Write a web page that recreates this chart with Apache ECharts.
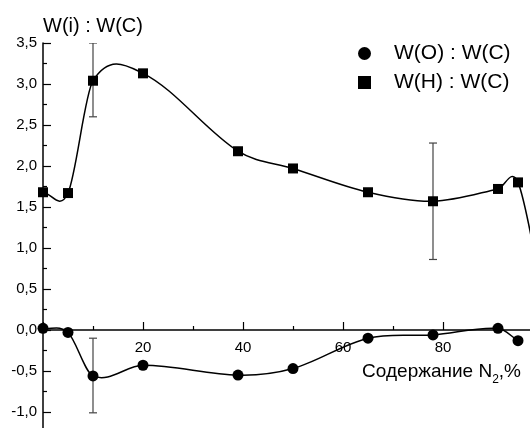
<!DOCTYPE html>
<html>
<head>
<meta charset="utf-8">
<script src="https://cdn.jsdelivr.net/npm/echarts@6/dist/echarts.min.js"></script>
<style>
html,body{margin:0;padding:0;background:#fff;}
#c{width:530px;height:428px;}
</style>
</head>
<body>
<div id="c"></div>
<script>
// Data
const xO = [0, 5, 10, 20, 39, 50, 65, 78, 91, 95];
const yO = [0.02, -0.03, -0.56, -0.43, -0.55, -0.47, -0.10, -0.06, 0.02, -0.13];
const xH = [0, 5, 10, 20, 39, 50, 65, 78, 91, 95, 100];
const yH = [1.68, 1.67, 3.04, 3.13, 2.18, 1.97, 1.68, 1.57, 1.72, 1.80, 0.40];
// error bars: [x, low, high]
const errO = [[10, -1.01, -0.10]];
const errH = [[10, 2.60, 3.50], [78, 0.86, 2.28]];
const xTicks = ['20', '40', '60', '80'];
const nameO = 'W(O) : W(C)';
const nameH = 'W(H) : W(C)';
const yName = 'W(i) : W(C)';

const FONT = 'Arial, "Liberation Sans", sans-serif';
const chart = echarts.init(document.getElementById('c'), null, {renderer: 'canvas'});

function pairs(xs, ys) { return xs.map((x, i) => [x, ys[i]]); }

function errRender(params, api) {
  const x = api.value(0), lo = api.value(1), hi = api.value(2);
  const pHi = api.coord([x, hi]);
  const pLo = api.coord([x, lo]);
  const w = 4;
  const st = {stroke: '#444', lineWidth: 1.2};
  return {
    type: 'group',
    children: [
      {type: 'line', shape: {x1: pHi[0], y1: pHi[1], x2: pLo[0], y2: pLo[1]}, style: st},
      {type: 'line', shape: {x1: pHi[0] - w, y1: pHi[1], x2: pHi[0] + w, y2: pHi[1]}, style: st},
      {type: 'line', shape: {x1: pLo[0] - w, y1: pLo[1], x2: pLo[0] + w, y2: pLo[1]}, style: st}
    ]
  };
}

// smooth curve segment i -> i+1 through the data points (cubic Hermite in x)
function splineRender(xs, ys) {
  return function (params, api) {
    const n = xs.length;
    const i = params.dataIndex;
    if (i >= n - 1) return null;
    const P = k => {
      const j = Math.max(0, Math.min(n - 1, k));
      return api.coord([xs[j], ys[j]]);
    };
    const slope = k => {
      const a = P(k - 1), b = P(k + 1);
      return (b[1] - a[1]) / (b[0] - a[0]);
    };
    const p1 = P(i), p2 = P(i + 1);
    const h = (p2[0] - p1[0]) / 3;
    const s1 = slope(i), s2 = slope(i + 1);
    return {
      type: 'bezierCurve',
      shape: {
        x1: p1[0], y1: p1[1], x2: p2[0], y2: p2[1],
        cpx1: p1[0] + h, cpy1: p1[1] + s1 * h,
        cpx2: p2[0] - h, cpy2: p2[1] - s2 * h
      },
      style: {stroke: '#000', lineWidth: 1.5, fill: 'none'}
    };
  };
}

const gridTop = 43, gridHeight = 410;
const yMin = -1.5, yMax = 3.5;
const zeroOffset = gridHeight * (0 - yMin) / (yMax - yMin);

const option = {
  animation: false,
  backgroundColor: '#fff',
  grid: {left: 43, top: gridTop, width: 500, height: gridHeight, containLabel: false, outerBoundsMode: 'none'},
  legend: {
    orient: 'vertical',
    left: 353,
    top: 38,
    itemWidth: 13,
    itemHeight: 13,
    itemGap: 8,
    data: [
      {name: nameO, icon: 'circle'},
      {name: nameH, icon: 'rect'}
    ],
    textStyle: {fontFamily: FONT, fontSize: 21, color: '#000', padding: [0, 0, 0, 18]}
  },
  xAxis: {
    type: 'value',
    min: 0,
    max: 100,
    interval: 20,
    position: 'bottom',
    offset: -zeroOffset,
    axisLine: {onZero: false, lineStyle: {color: '#000', width: 1.5}},
    axisTick: {inside: true, length: 8, lineStyle: {color: '#000', width: 1.2}},
    minorTick: {show: true, splitNumber: 2, length: 4, lineStyle: {color: '#000', width: 1.2}},
    splitLine: {show: false},
    axisLabel: {
      fontFamily: FONT, fontSize: 15, color: '#000', margin: 10,
      formatter: v => (xTicks.indexOf(String(v)) >= 0 ? String(v) : '')
    },
    name: 'Содержание N{s|2},%',
    nameLocation: 'end',
    nameGap: -22,
    nameTextStyle: {
      fontFamily: FONT, fontSize: 19, color: '#000',
      align: 'right', verticalAlign: 'top', padding: [28, 0, 0, 0],
      rich: {s: {fontFamily: FONT, fontSize: 12, color: '#000', padding: [16, 0, 0, 0]}}
    }
  },
  yAxis: {
    type: 'value',
    min: yMin,
    max: yMax,
    interval: 0.5,
    axisLine: {show: true, onZero: false, lineStyle: {color: '#000', width: 1.5}},
    axisTick: {show: true, inside: true, length: 8, lineStyle: {color: '#000', width: 1.2}},
    minorTick: {show: true, splitNumber: 2, length: 4, lineStyle: {color: '#000', width: 1.2}},
    splitLine: {show: false},
    axisLabel: {
      fontFamily: FONT, fontSize: 15, color: '#000', margin: 6,
      formatter: v => v.toFixed(1).replace('.', ',')
    },
    name: yName,
    nameLocation: 'end',
    nameGap: 7,
    nameTextStyle: {fontFamily: FONT, fontSize: 20, color: '#000', align: 'left', verticalAlign: 'bottom'}
  },
  series: [
    {
      type: 'custom', name: 'errO', renderItem: errRender, data: errO, z: 1,
      encode: {x: 0, y: [1, 2]}, clip: true
    },
    {
      type: 'custom', name: 'errH', renderItem: errRender, data: errH, z: 1,
      encode: {x: 0, y: [1, 2]}, clip: true
    },
    {
      type: 'custom', name: 'curveO', renderItem: splineRender(xO, yO), data: pairs(xO, yO), z: 2,
      encode: {x: 0, y: 1}, clip: true
    },
    {
      type: 'custom', name: 'curveH', renderItem: splineRender(xH, yH), data: pairs(xH, yH), z: 2,
      encode: {x: 0, y: 1}, clip: true
    },
    {
      type: 'scatter', name: nameO, data: pairs(xO, yO),
      symbol: 'circle', symbolSize: 11, z: 3,
      itemStyle: {color: '#000', opacity: 1}
    },
    {
      type: 'scatter', name: nameH, data: pairs(xH, yH),
      symbol: 'rect', symbolSize: 10, z: 3,
      itemStyle: {color: '#000', opacity: 1}
    }
  ]
};
chart.setOption(option);
</script>
</body>
</html>
